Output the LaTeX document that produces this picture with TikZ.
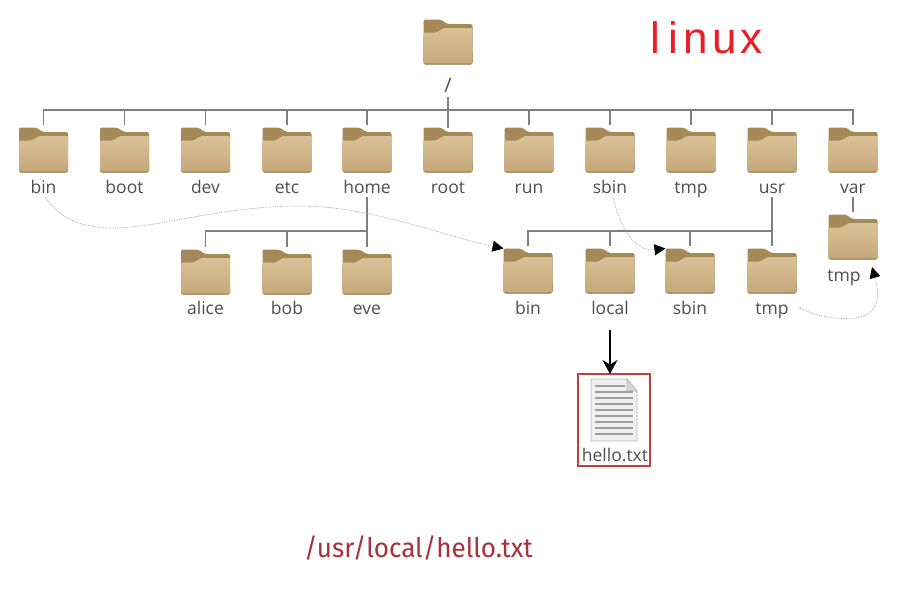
\documentclass[tikz,border=0pt]{standalone}
\usepackage{fontspec}
\setmainfont{Open Sans}
\newfontfamily\linuxfont{Liberation Sans}
\newfontfamily\pathfont{Fira Sans}
\usetikzlibrary{arrows.meta,calc}
\definecolor{tabdark}{HTML}{A58A58}
\definecolor{bodytop}{HTML}{D9C197}
\definecolor{bodybot}{HTML}{C6A97B}
\definecolor{edgec}{HTML}{A89068}
\definecolor{linec}{HTML}{808080}
\definecolor{labelc}{HTML}{4E4E4E}
\definecolor{boxred}{HTML}{C0403C}
\definecolor{pathred}{HTML}{A8303A}
\definecolor{linuxred}{HTML}{EE1C25}
\tikzset{
  folderart/.pic={
    \fill[tabdark,rounded corners=2pt] (-24.5,22.5) -- (-24.5,-22.5) -- (-7,-22.5) -- (-1,-18) -- (24.5,-18) -- (24.5,22.5) -- cycle;
    \fill[edgec,rounded corners=2pt] (-24.5,10) rectangle (24.5,22.5);
    \shade[top color=bodytop,bottom color=bodybot,rounded corners=1pt] (-24.5,21) -- (-24.5,-9.5) -- (-12,-9.5) -- (-4,-14) -- (24.5,-14) -- (24.5,21) -- cycle;
  },
  folder/.style={minimum width=49pt,minimum height=45pt,inner sep=0pt,outer sep=0pt,
    path picture={\pic at (path picture bounding box.center) {folderart};}},
  lbl/.style={anchor=base,inner sep=0pt,outer sep=0pt,text=labelc,font=\fontsize{17.5}{19}\selectfont},
  tree/.style={draw=linec,line width=1.4pt,shorten <=3pt},
  trail/.style={draw=black!38,line width=0.7pt,densely dotted,-{Triangle[black,length=11pt,width=11pt]}},
}
\begin{document}
\begin{tikzpicture}[x=1pt,y=-1pt]
\useasboundingbox (0,0) rectangle (903,611);
\fill[white] (0,0) rectangle (903,611);
% root
\node[folder] (root) at (448,42) {};
\node[lbl,font=\fontsize{20}{22}\selectfont] (slash) at (448,92) {/};
% top row
\foreach \n/\x in {bin/43.5,boot/124.5,dev/205.5,etc/287,home/367,rootd/448,run/529,sbin/610,tmp/691,usr/772,var/853}
  \node[folder] (\n) at (\x,150) {};
\node[lbl] (lbin) at (43.5,193) {bin};
\node[lbl] (lboot) at (124.5,193) {boot};
\node[lbl] (ldev) at (205.5,193) {dev};
\node[lbl] (letc) at (287,193) {etc};
\node[lbl] (lhome) at (367,193) {home};
\node[lbl] (lrootd) at (448,193) {root};
\node[lbl] (lrun) at (529,193) {run};
\node[lbl] (lsbin) at (610,193) {sbin};
\node[lbl] (ltmp) at (691,193) {tmp};
\node[lbl] (lusr) at (772,193) {usr};
\node[lbl] (lvar) at (853,193) {var};
% home children
\foreach \n/\x in {alice/205.5,bob/287,eve/367}
  \node[folder] (\n) at (\x,272) {};
\node[lbl] (lalice) at (205.5,314) {alice};
\node[lbl] (lbob) at (287,314) {bob};
\node[lbl] (leve) at (367,314) {eve};
% usr children
\foreach \n/\x in {ubin/528,ulocal/610,usbin/690,utmp/772}
  \node[folder] (\n) at (\x,271) {};
\node[lbl] (lubin) at (528,314) {bin};
\node[lbl] (lulocal) at (610,314) {local};
\node[lbl] (lusbin) at (690,314) {sbin};
\node[lbl] (lutmp) at (772,314) {tmp};
% var child
\node[folder] (vtmp) at (853,237) {};
\node[lbl] (lvtmp) at (844,281) {tmp};
% buses
\coordinate (busroot) at (448,110);
\coordinate (bushome) at (367,231);
\coordinate (bususr) at (772,231);
\draw[tree,shorten <=0pt] (slash.south) ++(0,5) -- (rootd.north);
\foreach \n in {bin,boot,dev,etc,home,rootd,run,sbin,tmp,usr,var}
  \draw[tree] (\n.north) |- (busroot);
\draw[tree,shorten <=4pt,shorten >=4pt] (lhome.south) -- (eve.north);
\foreach \n in {alice,bob,eve}
  \draw[tree] (\n.north) |- (bushome);
\draw[tree,shorten <=4pt,shorten >=3pt] (lusr.south) -- (utmp.north);
\foreach \n in {ubin,ulocal,usbin,utmp}
  \draw[tree] (\n.north) |- (bususr);
\draw[tree,shorten <=4pt,shorten >=3pt] (lvar.south) -- (vtmp.north);
% file box
\node[draw=boxred,line width=1.2pt,minimum width=72pt,minimum height=92pt,inner sep=0pt,outer sep=0pt] (hellobox) at (614,420) {};
\node[lbl,font=\fontsize{17.5}{19}\selectfont] (hello) at (615,461) {hello.txt};
\node[minimum width=46pt,minimum height=62pt,inner sep=0pt] (doc) at (614,410) {};
\fill[black!6,draw=black!28,line width=0.8pt] (591,379) -- (627,379) -- (637,391) -- (637,441) -- (591,441) -- cycle;
\fill[black!16,draw=black!28,line width=0.6pt] (627,379) -- (627,391) -- (637,391) -- cycle;
\foreach \y in {386,392,...,434}
  \draw[black!38,line width=1.1pt] (595,\y) -- (\ifnum\y<392 625\else 633\fi,\y);
\draw[-{Stealth[length=14pt,width=15pt]},line width=1.7pt,black,shorten <=16pt] (lulocal.south) -- (hellobox.north -| lulocal.south);
% dotted trails
\draw[trail] (lbin.south) ++(2,4) .. controls (58,217) and (80,228) .. (112,228)
  .. controls (160,228) and (220,206) .. (300,206)
  .. controls (370,206) and (440,235) .. (ubin.north west);
\draw[trail] (lsbin.south) ++(3,4) .. controls (620,228) and (635,252) .. (usbin.north west);
\draw[trail] (utmp.south east) ++(2,14) .. controls (815,316) and (835,320) .. (855,318)
  .. controls (880,315) and (880,295) .. (872,267);
% captions
\node[inner sep=0pt,text=linuxred,font=\linuxfont\fontsize{44}{46}\selectfont,anchor=base west] (linux) at (650,53) {l\kern9pt i\kern5pt n\kern4pt u\kern4pt x};
\node[inner sep=0pt,text=pathred,anchor=base west,font=\pathfont\fontsize{27}{30}\selectfont,xscale=0.965] (fullpath) at (304,557) {/usr/local/hello.txt};
\end{tikzpicture}
\end{document}
